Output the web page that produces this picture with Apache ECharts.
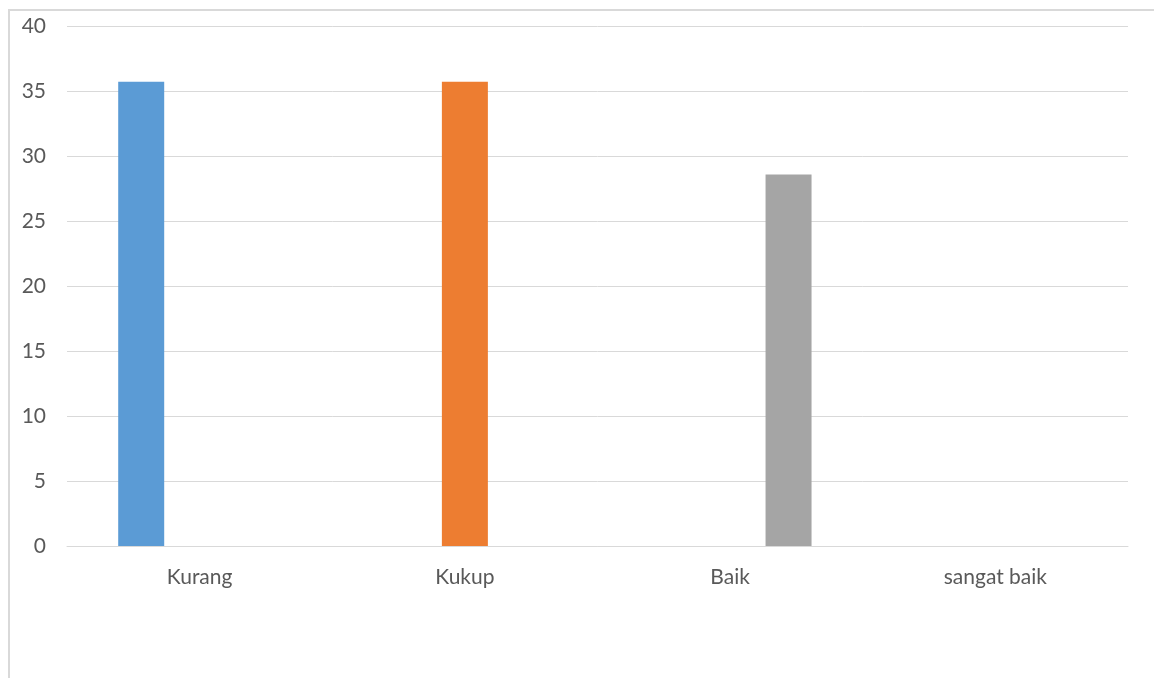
<!DOCTYPE html>
<html>
<head>
<meta charset="utf-8">
<script src="https://cdn.jsdelivr.net/npm/echarts@6/dist/echarts.min.js"></script>
<style>
  html, body { margin: 0; padding: 0; background: #ffffff; }
  #chart { width: 1154px; height: 678px; }
</style>
</head>
<body>
<div id="chart"></div>
<script>
// Rating categories along the x axis
const categories = ['Kurang', 'Kukup', 'Baik', 'sangat baik'];

// One series per rating, each filled only in its own category (percent)
const kurangValues = [35.71, null, null, null];
const kukupValues = [null, 35.71, null, null];
const baikValues = [null, null, 28.57, null];

const seriesNames = ['Kurang', 'Kukup', 'Baik'];
const seriesColors = ['#5B9BD5', '#ED7D31', '#A5A5A5'];
const seriesValues = [kurangValues, kukupValues, baikValues];

const font = 'Lato, "Open Sans", sans-serif';

const chart = echarts.init(document.getElementById('chart'), null, { renderer: 'canvas' });

chart.setOption({
  animation: false,
  backgroundColor: '#ffffff',
  graphic: [{
    type: 'rect',
    shape: { x: 9, y: 10, width: 1200, height: 720 },
    style: { fill: 'none', stroke: '#d9d9d9', lineWidth: 2 },
    silent: true,
    z: -1
  }],
  grid: { left: 67, right: 26, top: 26, bottom: 132, containLabel: false },
  xAxis: {
    type: 'category',
    data: categories,
    axisLine: { show: true, lineStyle: { color: '#d9d9d9', width: 1 } },
    axisTick: { show: false },
    axisLabel: { color: '#595959', fontSize: 21, fontFamily: font, margin: 21 },
    splitLine: { show: false }
  },
  yAxis: {
    type: 'value',
    min: 0,
    max: 40,
    interval: 5,
    axisLine: { show: false },
    axisTick: { show: false },
    axisLabel: { color: '#595959', fontSize: 21, fontFamily: font, margin: 21 },
    splitLine: { show: true, lineStyle: { color: '#d9d9d9', width: 1 } }
  },
  series: seriesValues.map((vals, i) => ({
    name: seriesNames[i],
    type: 'bar',
    data: vals,
    barWidth: 46,
    barGap: '27%',
    itemStyle: { color: seriesColors[i] }
  }))
});
</script>
</body>
</html>
